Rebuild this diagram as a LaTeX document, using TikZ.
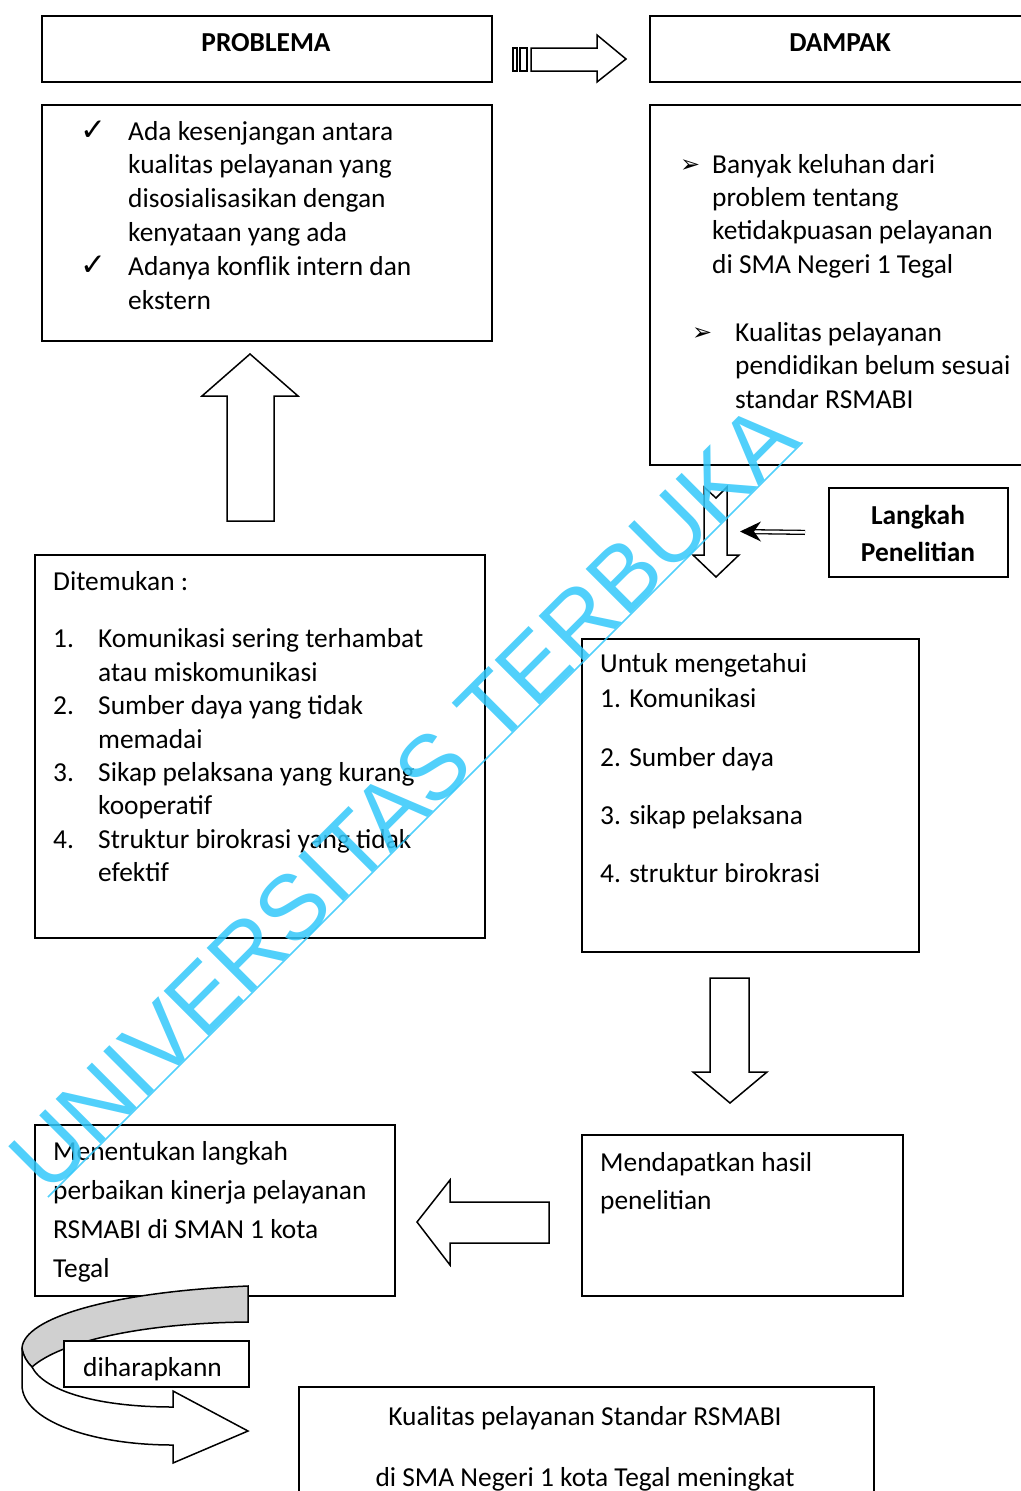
\documentclass[tikz,border=0pt]{standalone}
\usepackage{fontspec}
\setmainfont{Carlito}
\newfontfamily\dejavu{DejaVu Sans}
\newfontfamily\wmfont{Liberation Sans}
\usetikzlibrary{arrows.meta,positioning,calc}
\definecolor{wmcyan}{RGB}{51,200,250}
\definecolor{bandgray}{RGB}{208,208,208}
\newcommand{\chk}{\llap{{\dejavu\fontsize{31}{31}\selectfont ✓}\hspace{22pt}}}
\newcommand{\arw}[1]{\llap{\makebox[#1][l]{\raisebox{1pt}{\dejavu\fontsize{24}{24}\selectfont ➢}}}}
\newcommand{\itemno}[1]{\llap{\makebox[45pt][l]{#1}}}

\begin{document}
\begin{tikzpicture}[
			x=1pt, y=-1pt,
			box/.style={draw, line width=1.8pt, inner sep=0pt, anchor=north west},
			txt/.style={anchor=base west, inner sep=0pt, align=left, font=\fontsize{27.4}{33.4}\selectfont},
			title/.style={anchor=base, inner sep=0pt, align=center, font=\bfseries\fontsize{27.4}{37.7}\selectfont},
			blockarrow/.style={draw, line width=1.5pt, line join=miter},
			dblline/.style={line width=1.3pt, double distance=2.6pt, shorten >=14pt},
			wm/.style={anchor=base west, rotate=45, inner sep=0pt, text=wmcyan, text opacity=0.85, font=\wmfont\fontsize{92}{92}\selectfont}
		]
			\useasboundingbox (0,0) rectangle (1020,1491);

			% boxes
			\node[box, minimum width=450pt, minimum height=66pt] (probhead) at (41,15) {};
			\node[box, minimum width=400pt, minimum height=66pt] (dampakhead) at (649,15) {};
			\node[box, minimum width=450pt, minimum height=236pt] (probbox) at (41,104) {};
			\node[box, minimum width=400pt, minimum height=360pt] (dampakbox) at (649,104) {};
			\node[box, minimum width=179pt, minimum height=89pt] (langkahbox) at (828,487) {};
			\node[box, minimum width=450pt, minimum height=383pt] (temubox) at (34,554) {};
			\node[box, minimum width=337pt, minimum height=313pt] (untukbox) at (581,638) {};
			\node[box, minimum width=321pt, minimum height=161pt] (hasilbox) at (581,1134) {};
			\node[box, minimum width=360pt, minimum height=171pt] (tentukanbox) at (34,1124) {};
			\node[box, minimum width=575pt, minimum height=130pt] (kualitasbox) at (298,1386) {};

			% texts (multi-line nodes sit on the baseline of their last line)
			\node[title] (probtitle) at (266,51) {PROBLEMA};
			\node[title] (dampaktitle) at (840,51) {DAMPAK};
			\node[txt, font=\fontsize{27.4}{33.8}\selectfont] (probtext) at (128,309) {\chk Ada kesenjangan antara\\kualitas pelayanan yang\\disosialisasikan dengan\\kenyataan yang ada\\\chk Adanya konflik intern dan\\ekstern};
			\node[txt] (dampak1) at (712,273.3) {\arw{32pt}Banyak keluhan dari\\problem tentang\\ketidakpuasan pelayanan\\di SMA Negeri 1 Tegal};
			\node[txt] (dampak2) at (735,408.3) {\arw{43pt}Kualitas pelayanan\\pendidikan belum sesuai\\standar RSMABI};
			\node[title] (langkah) at (918,561.7) {Langkah\\Penelitian};
			\node[txt] (temu) at (53,590) {Ditemukan :};
			\node[txt] (temulist) at (98,881.7) {\itemno{1.}Komunikasi sering terhambat\\atau miskomunikasi\\\itemno{2.}Sumber daya yang tidak\\memadai\\\itemno{3.}Sikap pelaksana yang kurang\\kooperatif\\\itemno{4.}Struktur birokrasi yang tidak\\efektif};
			\node[txt, font=\fontsize{27.4}{35}\selectfont] (untuk) at (600,882) {Untuk mengetahui\\1. Komunikasi\\[24pt]2. Sumber daya\\[23pt]3. sikap pelaksana\\[23pt]4. struktur birokrasi};
			\node[txt, font=\fontsize{27.4}{38}\selectfont] (hasil) at (600,1209) {Mendapatkan hasil\\penelitian};
			\node[txt, font=\fontsize{27.4}{38.7}\selectfont] (tentukan) at (53,1277) {Menentukan langkah\\perbaikan kinerja pelayanan\\RSMABI di SMAN 1 kota\\Tegal};
			\node[txt, anchor=base, align=center] (kualitas) at (585,1486) {Kualitas pelayanan Standar RSMABI\\[27.6pt]di SMA Negeri 1 kota Tegal meningkat};

			% block arrows
			\draw[blockarrow] (513,48) rectangle (517,71);
			\draw[blockarrow] (520,48) rectangle (527,71);
			\draw[blockarrow] (531,48) -- (597,48) -- (597,35) -- (626,59) -- (597,82) -- (597,71) -- (531,71) -- cycle;
			\draw[blockarrow] (227,521) -- (227,396) -- (202,396) -- (250,354) -- (298,396) -- (274,396) -- (274,521) -- cycle;
			\draw[blockarrow] (704,487) -- (716,498) -- (727,487) -- (727,555) -- (739,555) -- (716,577) -- (693,555) -- (704,555) -- cycle;
			\draw[blockarrow] (710,978) -- (749,978) -- (749,1072) -- (767,1072) -- (730,1103) -- (693,1072) -- (710,1072) -- cycle;
			\draw[blockarrow] (549,1202) -- (450,1202) -- (450,1180) -- (417,1222) -- (450,1265) -- (450,1243) -- (549,1243) -- cycle;

			\coordinate (dtip) at (740,531.5);
			\draw[dblline] ([xshift=-23pt]langkahbox.west) -- (dtip);
			\fill (dtip) -- ($(dtip)+(21,-10)$) -- ($(dtip)+(14,0)$) -- ($(dtip)+(21,10)$) -- cycle;

			% curved arrow
			\draw[blockarrow, fill=bandgray] (248,1286) .. controls (110,1292) and (24,1318) .. (22,1348)
				.. controls (23,1356) and (27,1362) .. (32,1367)
				.. controls (60,1342) and (140,1323) .. (248,1322) -- cycle;
			\draw[blockarrow, fill=white] (22,1348) -- (22,1385) .. controls (22,1420) and (90,1445) .. (173,1445)
				-- (173,1463) -- (248,1431) -- (173,1391) -- (173,1407)
				.. controls (100,1407) and (45,1392) .. (32,1367)
				.. controls (27,1362) and (23,1356) .. (22,1348) -- cycle;
			\node[box, fill=white, minimum width=185pt, minimum height=46pt] (harapbox) at (63,1340) {};
			\begin{scope}
				\clip ([yshift=2pt]harapbox.south west) rectangle (harapbox.north east);
				\node[txt] (harap) at (83,1376) {diharapkann};
			\end{scope}

			% watermark
			\node[wm] (wmark) at (48,1197) {UNIVERSITAS TERBUKA};
			\draw[wmcyan, opacity=0.85, line width=1.5pt] (wmark.base west) -- (wmark.base east);
		\end{tikzpicture}
\end{document}
